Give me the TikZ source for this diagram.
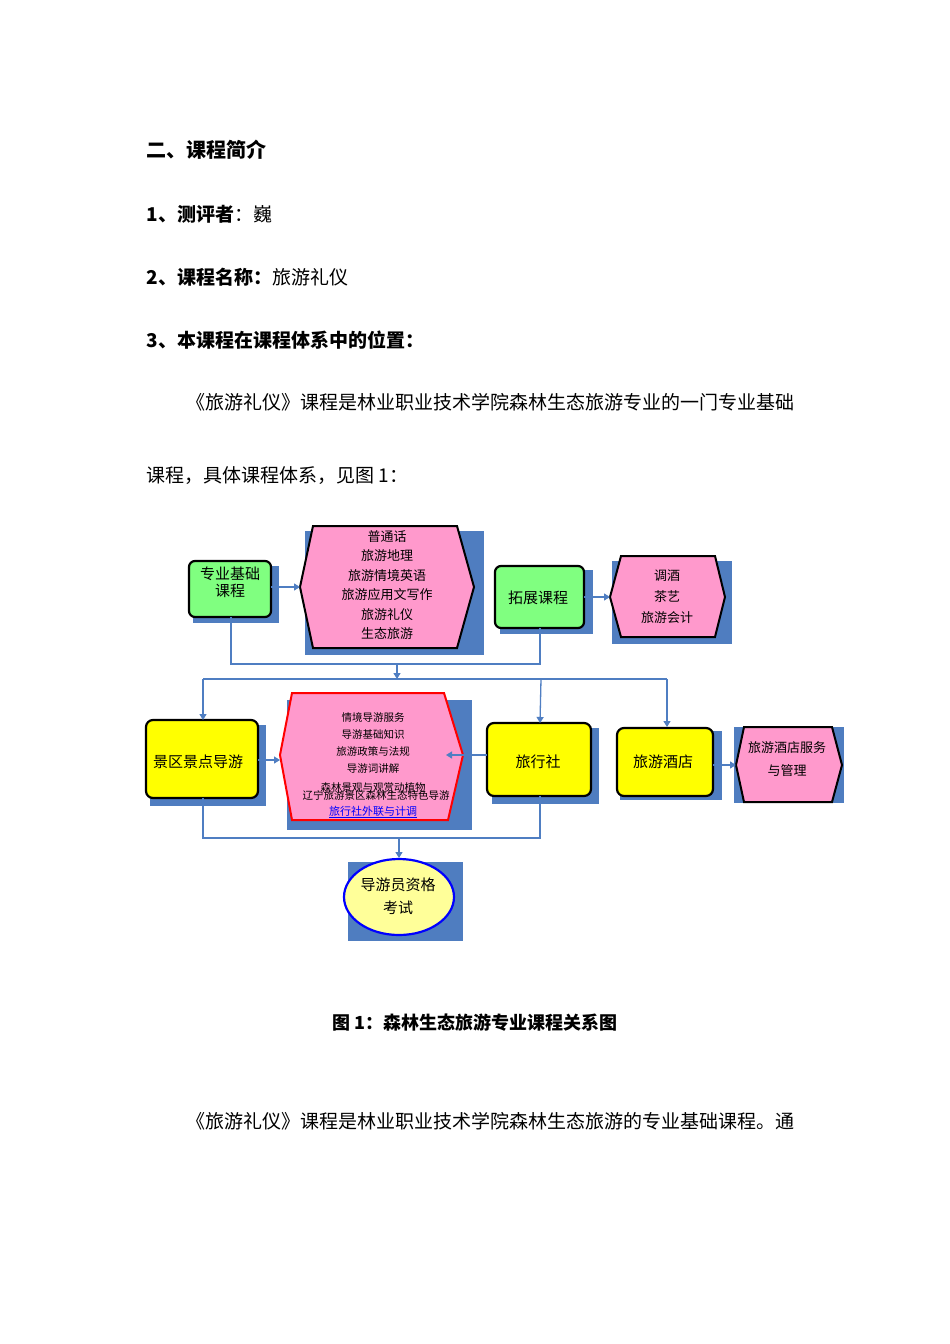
\documentclass[tikz,border=0pt]{standalone}
\usepackage{fontspec}
\setmainfont{Noto Sans CJK SC}
\newfontfamily\cjkb{Noto Sans CJK SC}[BoldFont={* Bold}]
\usetikzlibrary{arrows.meta}
\definecolor{shd}{HTML}{4F7DC0}
\definecolor{lnk}{HTML}{4F7EC2}
\definecolor{grn}{HTML}{80FF80}
\definecolor{pnk}{HTML}{FF99CC}
\definecolor{yel}{HTML}{FFFF00}
\tikzset{
  sh/.style={fill=shd},
  gbox/.style={draw=black,line width=2.2pt,rounded corners=6pt,fill=grn},
  ybox/.style={draw=black,line width=2.2pt,rounded corners=7pt,fill=yel},
  hex/.style={draw=black,line width=2pt,fill=pnk},
  con/.style={draw=lnk,line width=1.3pt},
  arr/.style={con,-{Triangle[length=6pt,width=7pt]}},
  body/.style={anchor=west,font=\fontsize{19}{22}\selectfont},
  dt/.style={font=\fontsize{13}{16}\selectfont,align=center},
}
\begin{document}
\begin{tikzpicture}[x=1pt,y=-1pt]
\useasboundingbox (0,0) rectangle (950,1344);
\fill[white] (0,0) rectangle (950,1344);
% text
\node[body,font=\fontsize{20}{22}\selectfont\bfseries] (h0) at (143,150) {二、课程简介};
\node[body] (h1) at (143,214) {\textbf{1、测评者}：巍};
\node[body] (h2) at (143,277) {\textbf{2、课程名称：}旅游礼仪};
\node[body] (h3) at (143,340) {\textbf{3、本课程在课程体系中的位置：}};
\node[body] (p1) at (183,402) {《旅游礼仪》课程是林业职业技术学院森林生态旅游专业的一门专业基础};
\node[body] (p2) at (143,476) {课程，具体课程体系，见图 1：};
\node[font=\fontsize{18}{22}\selectfont\bfseries] (cap) at (475,1023) {图 1：森林生态旅游专业课程关系图};
\node[body] (p3) at (183,1121) {《旅游礼仪》课程是林业职业技术学院森林生态旅游的专业基础课程。通};
% shadows
\fill[sh] (193,566) rectangle (279,623);
\fill[sh] (305,531) rectangle (484,655);
\fill[sh] (500,570) rectangle (593,634);
\fill[sh] (612,561) rectangle (732,644);
\fill[sh] (150,725) rectangle (266,806);
\fill[sh] (287,700) rectangle (472,830);
\fill[sh] (492,728) rectangle (599,804);
\fill[sh] (620,731) rectangle (722,800);
\fill[sh] (734,727) rectangle (844,803);
\fill[sh] (348,862) rectangle (463,941);
% shapes
\draw[gbox] (189,561) rectangle (271,617);
\node[dt,font=\fontsize{15}{17}\selectfont] (b1) at (230,582) {专业基础\\课程};
\draw[hex] (313,526)--(457,526)--(474,587)--(457,648)--(313,648)--(300,587)--cycle;
\node[dt,font=\fontsize{13}{19.5}\selectfont] (x1) at (387,585) {普通话\\旅游地理\\旅游情境英语\\旅游应用文写作\\旅游礼仪\\生态旅游};
\draw[gbox] (495,566) rectangle (584,628);
\node[dt,font=\fontsize{15}{17}\selectfont] (b2) at (538,598) {拓展课程};
\draw[hex] (621,556)--(715,556)--(725,597)--(715,637)--(621,637)--(610,597)--cycle;
\node[dt,font=\fontsize{13}{21}\selectfont] (x2) at (667,597) {调酒\\茶艺\\旅游会计};
\draw[ybox] (146,720) rectangle (258,798);
\node[dt,font=\fontsize{15}{17}\selectfont] (b3) at (198,762) {景区景点导游};
\draw[draw=red,line width=2pt,fill=pnk] (292,693)--(444,693)--(463,755)--(448,820)--(292,820)--(280,755)--cycle;
\node[dt,font=\fontsize{10.5}{17}\selectfont] (x3) at (373,752) {情境导游服务\\导游基础知识\\旅游政策与法规\\导游词讲解\\[2pt]森林景观与观赏动植物};
\node[dt,font=\fontsize{10.5}{12}\selectfont] (x3b) at (376,795) {辽宁旅游景区森林生态特色导游};
\node[dt,font=\fontsize{11}{12}\selectfont\itshape,text=blue] (x3c) at (373,812) {\underline{旅行社外联与计调}};
\draw[ybox] (487,723) rectangle (591,796);
\node[dt,font=\fontsize{15}{17}\selectfont] (b4) at (538,762) {旅行社};
\draw[ybox] (617,728) rectangle (713,796);
\node[dt,font=\fontsize{15}{17}\selectfont] (b5) at (663,762) {旅游酒店};
\draw[hex] (744,727)--(832,727)--(842,765)--(832,802)--(744,802)--(736,765)--cycle;
\node[dt,font=\fontsize{13}{23}\selectfont] (x4) at (787,759) {旅游酒店服务\\与管理};
\draw[draw=blue,line width=2.2pt,fill=yel!40] (399,897) ellipse (55 and 38);
\node[dt,font=\fontsize{15}{23}\selectfont] (e1) at (398,896) {导游员资格\\考试};
% connectors
\coordinate (j1) at (397,664);
\coordinate (j2) at (397,679);
\coordinate (j3) at (399,838);
\draw[arr] (271,587) -- (300,587);
\draw[arr] (584,597) -- (610,597);
\draw[con] (231,617) |- (540,664) -- (540,628);
\draw[arr] (j1) -- (j2);
\draw[con] (203,679) -- (667,679);
\draw[arr] (203,679) -- (203,720);
\draw[arr] (541,679) -- (540,723);
\draw[arr] (667,679) -- (667,727);
\draw[arr] (258,760) -- (280,760);
\draw[arr] (487,755) -- (446,755);
\draw[arr] (713,765) -- (736,765);
\draw[con] (203,798) |- (540,838) -- (540,796);
\draw[arr] (j3) -- (399,858);
\end{tikzpicture}
\end{document}
